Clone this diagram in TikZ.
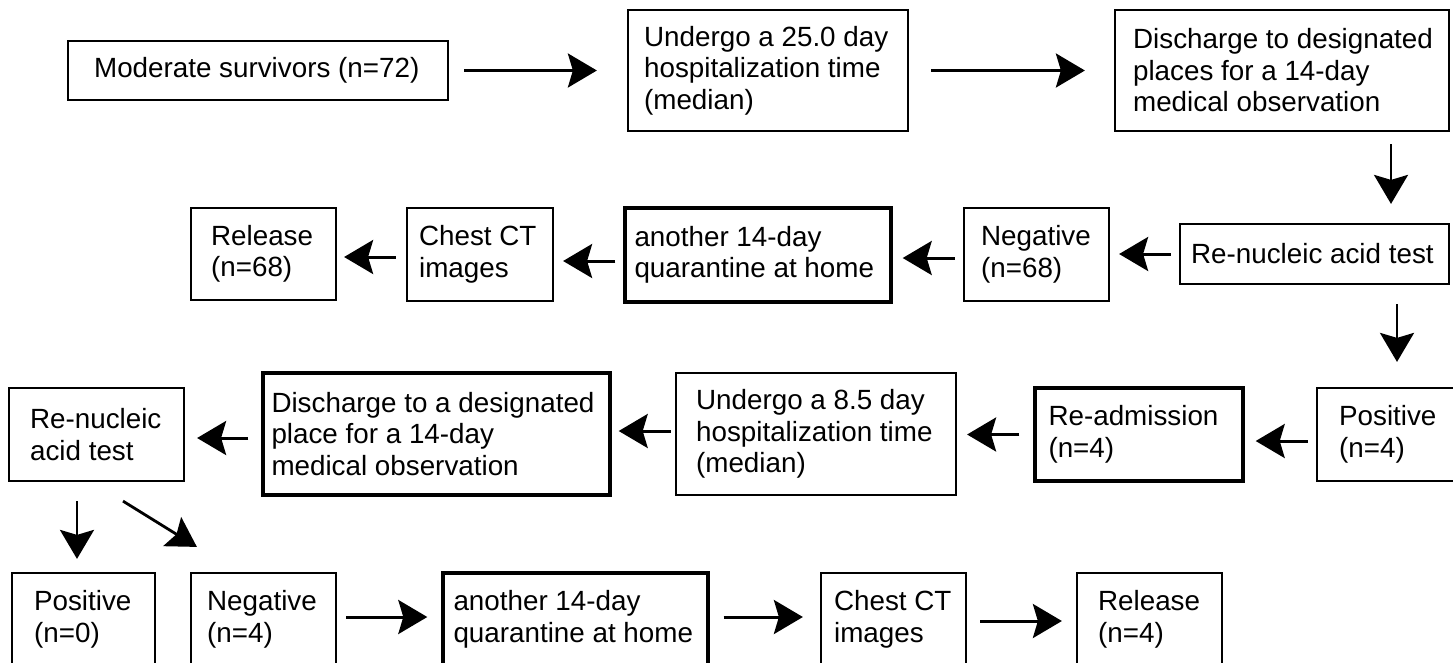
\documentclass[tikz,border=0pt]{standalone}
\usepackage{fontspec}
\setmainfont{Liberation Sans}
\usetikzlibrary{arrows.meta}
\newcommand\mybox[8]{%
  \pgfmathsetmacro\bw{#4-#2}\pgfmathsetmacro\bh{#5-#3}%
  \pgfmathsetmacro\bcx{(#2+#4)/2}\pgfmathsetmacro\bcy{(#3+#5)/2}%
  \node[#7, minimum width=\bw pt, minimum height=\bh pt] (#1) at (\bcx,\bcy) {};%
  \node[txt, anchor=west] (#1t) at ([xshift=#6pt]#1.west) {#8};}
\begin{document}
\begin{tikzpicture}[x=1pt,y=-1pt,
  box/.style={draw=black, line width=2.2pt, inner sep=0pt},
  tbox/.style={box, line width=3.4pt},
  txt/.style={inner sep=0pt, align=left, font=\fontsize{27.8}{31.5}\selectfont, text=black},
  harr/.style={line width=3pt, -{Stealth[length=29pt,width=34pt,inset=5pt]}},
  varr/.style={line width=2.6pt, -{Stealth[length=29pt,width=34pt,inset=5pt]}}]
\clip (0,0) rectangle (1453,662);
\useasboundingbox (0,0) rectangle (1453,662);
\fill[white] (0,0) rectangle (1453,662);
% row 1
\mybox{m1}{68}{41}{448}{100}{27}{box}{Moderate survivors (n=72)}
\mybox{u1}{628}{10}{908}{131}{17}{box}{Undergo a 25.0 day\\hospitalization time\\(median)}
\mybox{d1}{1115}{10}{1449}{131}{19}{box}{Discharge to designated\\places for a 14-day\\medical observation}
% row 2
\mybox{r2}{1180}{224}{1449}{284}{12}{box}{Re-nucleic acid test}
\mybox{n2}{964}{208}{1109}{301}{18}{box}{Negative\\(n=68)}
\mybox{q2}{625}{208}{891}{302}{11}{tbox}{another 14-day\\quarantine at home}
\mybox{c2}{407}{208}{553}{301}{13}{box}{Chest CT\\images}
\mybox{l2}{191}{208}{336}{300}{21}{box}{Release\\(n=68)}
% row 3
\mybox{p3}{1317}{388}{1470}{481}{23}{box}{Positive\\(n=4)}
\mybox{a3}{1035}{388}{1243}{481}{15}{tbox}{Re-admission\\(n=4)}
\mybox{u3}{676}{373}{956}{495}{21}{box}{Undergo a 8.5 day\\hospitalization time\\(median)}
\mybox{s3}{263}{373}{610}{495}{10}{tbox}{Discharge to a designated\\place for a 14-day\\medical observation}
\mybox{r3}{9}{388}{184}{481}{22}{box}{Re-nucleic\\acid test}
% row 4
\mybox{p4}{12}{573}{155}{666}{23}{box}{Positive\\(n=0)}
\mybox{n4}{191}{573}{336}{666}{17}{box}{Negative\\(n=4)}
\mybox{q4}{443}{573}{708}{666}{12}{tbox}{another 14-day\\quarantine at home}
\mybox{c4}{821}{573}{966}{666}{14}{box}{Chest CT\\images}
\mybox{l4}{1077}{573}{1222}{666}{22}{box}{Release\\(n=4)}
% arrows row 1
\draw[harr, shorten <=15pt, shorten >=30pt] (m1.east) -- (m1.east -| u1.west);
\draw[harr, shorten <=22pt, shorten >=29pt] (u1.east) -- (u1.east -| d1.west);
\coordinate (xd) at (1391,0);
\draw[varr, shorten <=12pt, shorten >=19pt] (d1.south -| xd) -- (r2.north -| xd);
% arrows row 2
\draw[harr, shorten <=8pt, shorten >=9pt] (r2.west) -- (r2.west -| n2.east);
\coordinate (n2a) at ([yshift=-3.5pt]n2.west);
\draw[harr, shorten <=8pt, shorten >=10pt] (n2a) -- (n2a -| q2.east);
\coordinate (q2a) at ([yshift=-6pt]q2.west);
\draw[harr, shorten <=8pt, shorten >=9pt] (q2a) -- (q2a -| c2.east);
\coordinate (c2a) at ([yshift=-2.5pt]c2.west);
\draw[harr, shorten <=10pt, shorten >=7pt] (c2a) -- (c2a -| l2.east);
\coordinate (xp) at (1397,0);
\draw[varr, shorten <=19pt, shorten >=25pt] (r2.south -| xp) -- (p3.north -| xp);
% arrows row 3
\coordinate (p3a) at ([yshift=-6.5pt]p3.west);
\draw[harr, shorten <=8pt, shorten >=11pt] (p3a) -- (p3a -| a3.east);
\draw[harr, shorten <=14pt, shorten >=10pt] (a3.west) -- (a3.west -| u3.east);
\coordinate (u3a) at ([yshift=3pt]u3.west);
\draw[harr, shorten <=4pt, shorten >=7pt] (u3a) -- (u3a -| s3.east);
\coordinate (s3a) at ([yshift=-4pt]s3.west);
\draw[harr, shorten <=13pt, shorten >=12pt] (s3a) -- (s3a -| r3.east);
\coordinate (r3v) at ([xshift=-19.5pt]r3.south);
\draw[varr, line width=2.8pt, shorten <=19pt, shorten >=13pt] (r3v) -- (r3v |- p4.north);
\coordinate (r3d) at ([xshift=26.5pt,yshift=-19pt]r3.south);
\coordinate (n4d) at ([xshift=7pt,yshift=25pt]n4.north west);
\draw[harr, line width=2.8pt] (r3d) -- (n4d);
% arrows row 4
\coordinate (n4a) at ([yshift=2.5pt]n4.east);
\draw[harr, shorten <=9pt, shorten >=14pt] (n4a) -- (n4a -| q4.west);
\coordinate (q4a) at ([yshift=2.5pt]q4.east);
\draw[harr, shorten <=14pt, shorten >=17pt] (q4a) -- (q4a -| c4.west);
\coordinate (c4a) at ([yshift=-1.5pt]c4.east);
\draw[harr, shorten <=13pt, shorten >=14pt] (c4a) -- (c4a -| l4.west);
\end{tikzpicture}
\end{document}
